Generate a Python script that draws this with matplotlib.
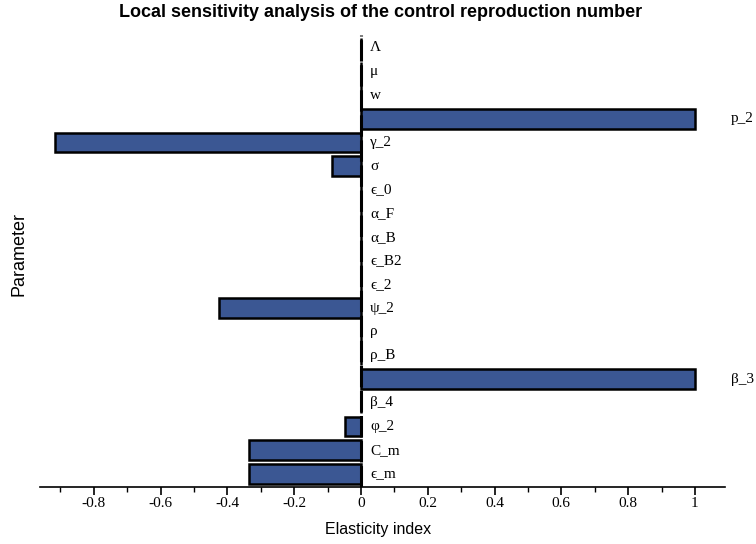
import matplotlib.pyplot as plt
import numpy as np

params = ['Λ', 'μ', 'w', 'p_2', 'γ_2', 'σ', 'ϵ_0', 'α_F', 'α_B', 'ϵ_B2',
          'ϵ_2', 'ψ_2', 'ρ', 'ρ_B', 'β_3', 'β_4', 'φ_2', 'C_m', 'ϵ_m']
elasticity = [0, 0, 0, 1.0, -0.915, -0.087, 0, 0, 0, 0,
              0, -0.425, 0, 0, 1.0, 0, -0.048, -0.335, -0.335]

serif = ['Liberation Serif', 'DejaVu Serif']
plt.rcParams['font.family'] = ['Liberation Sans', 'DejaVu Sans']

fig = plt.figure(figsize=(7.56, 5.44), dpi=100)
ax = fig.add_axes([0.053, 0.105, 0.906, 0.831])

y = np.arange(len(params))
ax.barh(y, elasticity, height=0.82, color='#3b5793', edgecolor='black', linewidth=1.8)
ax.axvline(0, color='black', lw=2.2, ls=(0, (7, 1.2)), zorder=3)

# parameter names next to the zero line, or past the end of positive bars
for yi, name, v in zip(y, params, elasticity):
    xt = v + 0.108 if v > 0 else 0.027
    ax.text(xt, yi, name, va='center', ha='left', fontsize=11, family=serif)

ax.set_ylim(len(params) - 0.45, -0.55)
ax.set_xlim(-0.961, 1.09)
ax.set_yticks([])
for s in ['top', 'right', 'left']:
    ax.spines[s].set_visible(False)
ax.spines['bottom'].set_linewidth(1.2)

ax.set_xticks(np.arange(-0.8, 1.01, 0.2))
ax.set_xticklabels(['-0.8', '-0.6', '-0.4', '-0.2', '0', '0.2', '0.4', '0.6', '0.8', '1'],
                   family=serif, fontsize=11)
ax.set_xticks(np.arange(-0.9, 1.05, 0.1), minor=True)
ax.tick_params(axis='x', which='major', length=6, width=1.2, pad=1)
ax.tick_params(axis='x', which='minor', length=3.5, width=1.0)

fig.text(0.5, 0.026, 'Elasticity index', fontsize=11.5, ha='center', va='center')
fig.text(0.025, 0.533, 'Parameter', fontsize=13, rotation=90, ha='center', va='center')
fig.text(0.503, 0.977, 'Local sensitivity analysis of the control reproduction number',
         fontsize=13, fontweight='bold', ha='center', va='center')

fig.savefig('out.png', dpi=100)
